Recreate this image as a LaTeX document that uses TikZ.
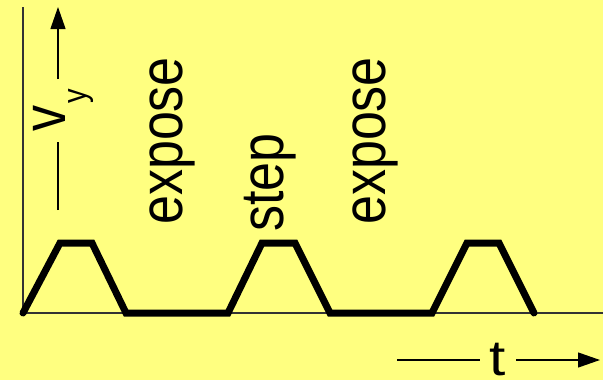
\documentclass[tikz,border=0pt]{standalone}
\usepackage{fontspec}
\setmainfont{Liberation Sans}
\usetikzlibrary{arrows.meta}
\definecolor{bgyellow}{RGB}{255,255,128}
\begin{document}
\begin{tikzpicture}[x=1pt, y=-1pt, >={Triangle[length=22pt,width=15pt]},
 axis/.style={line width=1.2pt, black!80},
 thinline/.style={line width=1.2pt},
 wave/.style={line width=7pt, line cap=round},
 lbl/.style={font=\fontsize{52}{60}\selectfont, inner sep=0pt, anchor=base west, rotate=90, yscale=1.17}]
 \fill[bgyellow] (0,0) rectangle (603,380);
 \useasboundingbox (0,0) rectangle (603,380);
 % axes
 \draw[axis] (23,7)--(23,313)--(603,313);
 % velocity profile
 \draw[wave] (23,313)--(60,243)--(92,243)--(126,313)--(228,313)--(262,243)--(295,243)--(330,313)--(432,313)--(467,243)--(499,243)--(534,313);
 % phases
 \node[lbl] (exp1) at (182,225) {expose};
 \node[lbl] (stp) at (283,232) {step};
 \node[lbl] (exp2) at (385,225) {expose};
 % v_y label with arrow
 \node[lbl, inner xsep=10pt] (vlab) at (65,142) {v\kern2pt\raisebox{-18pt}{\fontsize{29}{30}\selectfont y}};
 \coordinate (vlo) at (58,210);
 \coordinate (vtop) at (58,7);
 \draw[thinline] (vlo)--(vlo |- vlab.west);
 \draw[thinline,->] (vtop |- vlab.east)--(vtop);
 % t label with arrow
 \node[font=\fontsize{50}{60}\selectfont, xscale=1.17, inner xsep=8.5pt, inner ysep=0pt, anchor=base] (tlab) at (498,375) {t};
 \coordinate (tl) at (397,360);
 \coordinate (tr) at (600,360);
 \draw[thinline] (tl)--(tl -| tlab.west);
 \draw[thinline,->] (tr -| tlab.east)--(tr);
\end{tikzpicture}
\end{document}
